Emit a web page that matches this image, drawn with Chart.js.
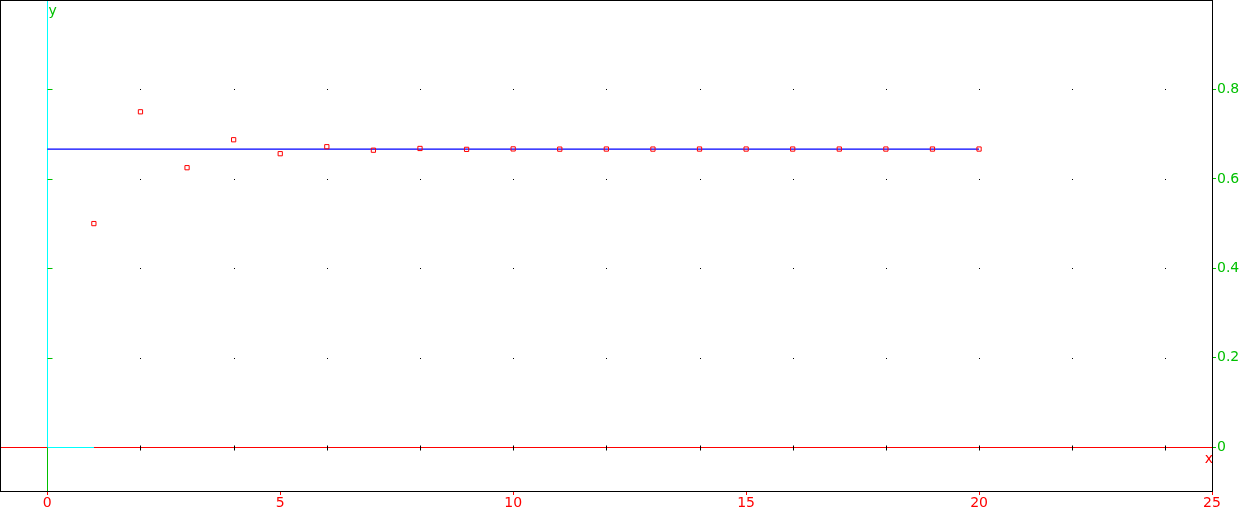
<!DOCTYPE html>
<html>
<head>
<meta charset="utf-8">
<script src="https://cdn.jsdelivr.net/npm/chart.js@4"></script>
<style>
  html, body { margin: 0; padding: 0; background: #fff; }
  canvas { display: block; }
</style>
</head>
<body>
<canvas id="chart" width="1239" height="508"></canvas>
<script>
(function () {
  'use strict';

  // sequence terms (n, a_n)
  var seqX = [1, 2, 3, 4, 5, 6, 7, 8, 9, 10, 11, 12, 13, 14, 15, 16, 17, 18, 19, 20];
  var seqY = [0.5, 0.75, 0.625, 0.6875, 0.6563, 0.6719, 0.6641, 0.668, 0.666, 0.667,
    0.6665, 0.6667, 0.6666, 0.6667, 0.6667, 0.6667, 0.6667, 0.6667, 0.6667, 0.6667];
  // horizontal limit line
  var limitX = [0, 20];
  var limitY = [0.6667, 0.6667];
  // tick labels and grid dots
  var xTicks = [0, 5, 10, 15, 20, 25];
  var yTicks = [0, 0.2, 0.4, 0.6, 0.8];
  var gridX = [2, 4, 6, 8, 10, 12, 14, 16, 18, 20, 22, 24];
  var gridY = [0.2, 0.4, 0.6, 0.8];

  var RED = '#ff0000';
  var GREEN = '#00c000';
  var CYAN = '#00ffff';
  var BLUE = '#0000ff';
  var FONT = '"DejaVu Sans", sans-serif';

  function toPoints(xs, ys) {
    return xs.map(function (x, i) { return { x: x, y: ys[i] }; });
  }

  function seg(ctx, x1, y1, x2, y2, color) {
    ctx.strokeStyle = color;
    ctx.beginPath();
    ctx.moveTo(x1, y1);
    ctx.lineTo(x2, y2);
    ctx.stroke();
  }

  function noPadding(scale) {
    scale.paddingLeft = 0;
    scale.paddingRight = 0;
    scale.paddingTop = 0;
    scale.paddingBottom = 0;
  }

  var decor = {
    id: 'decor',
    beforeDatasetsDraw: function (chart) {
      var ctx = chart.ctx;
      var a = chart.chartArea;
      var xs = chart.scales.x;
      var ys = chart.scales.y;
      var px = function (v) { return Math.round(xs.getPixelForValue(v)); };
      var py = function (v) { return Math.round(ys.getPixelForValue(v)); };
      ctx.save();
      ctx.lineWidth = 1;

      // dotted grid
      ctx.fillStyle = '#000';
      gridX.forEach(function (gx) {
        gridY.forEach(function (gy) { ctx.fillRect(px(gx), py(gy), 1, 1); });
      });

      var y0 = py(0) + 0.5;
      var x0 = px(0) + 0.5;
      // x axis
      seg(ctx, a.left, y0, a.right, y0, RED);
      seg(ctx, x0, y0, px(1), y0, CYAN);
      // y axis
      seg(ctx, x0, a.top, x0, y0, CYAN);
      seg(ctx, x0, y0, x0, a.bottom, GREEN);

      // ticks on the axes
      gridX.forEach(function (gx) { seg(ctx, px(gx) + 0.5, y0 - 2, px(gx) + 0.5, y0 + 3, '#000'); });
      gridY.forEach(function (gy) { seg(ctx, x0, py(gy) + 0.5, x0 + 5, py(gy) + 0.5, GREEN); });

      // axis names
      ctx.font = '14px ' + FONT;
      ctx.fillStyle = RED;
      ctx.textAlign = 'right';
      ctx.textBaseline = 'alphabetic';
      ctx.fillText('x', a.right + 1, y0 + 15);
      ctx.fillStyle = GREEN;
      ctx.textAlign = 'left';
      ctx.fillText('y', x0 + 1, a.top + 15);

      // frame
      ctx.strokeStyle = '#000';
      ctx.strokeRect(a.left + 0.5, a.top + 0.5, a.right - a.left, a.bottom - a.top);
      ctx.restore();
    }
  };

  new Chart(document.getElementById('chart').getContext('2d'), {
    type: 'scatter',
    plugins: [decor],
    data: {
      datasets: [{
        label: 'a_n',
        data: toPoints(seqX, seqY),
        showLine: false,
        pointStyle: 'rect',
        pointRadius: 3,
        pointBorderWidth: 1,
        pointBorderColor: RED,
        pointBackgroundColor: 'rgba(0,0,0,0)'
      }, {
        label: 'limit',
        data: toPoints(limitX, limitY),
        showLine: true,
        borderColor: BLUE,
        backgroundColor: BLUE,
        borderWidth: 1.2,
        pointRadius: 0
      }]
    },
    options: {
      responsive: false,
      devicePixelRatio: 1,
      animation: false,
      layout: { padding: 0, autoPadding: false },
      plugins: { legend: { display: false }, tooltip: { enabled: false } },
      scales: {
        x: {
          type: 'linear',
          position: 'bottom',
          min: -1.015,
          max: 25,
          afterBuildTicks: function (scale) {
            scale.ticks = xTicks.map(function (v) { return { value: v }; });
          },
          afterFit: function (scale) { scale.height = 17; noPadding(scale); },
          grid: { drawOnChartArea: false, drawTicks: true, tickLength: 4, tickColor: RED },
          border: { display: false },
          ticks: { color: RED, font: { family: FONT, size: 14 }, padding: 0, maxRotation: 0 }
        },
        y: {
          type: 'linear',
          position: 'right',
          min: -0.098,
          max: 1.0,
          afterBuildTicks: function (scale) {
            scale.ticks = yTicks.map(function (v) { return { value: v }; });
          },
          afterFit: function (scale) { scale.width = 27; noPadding(scale); },
          grid: { drawOnChartArea: false, drawTicks: true, tickLength: 4, tickColor: GREEN },
          border: { display: false },
          ticks: { color: GREEN, font: { family: FONT, size: 14 }, padding: 1 }
        }
      }
    }
  });
})();
</script>
</body>
</html>
